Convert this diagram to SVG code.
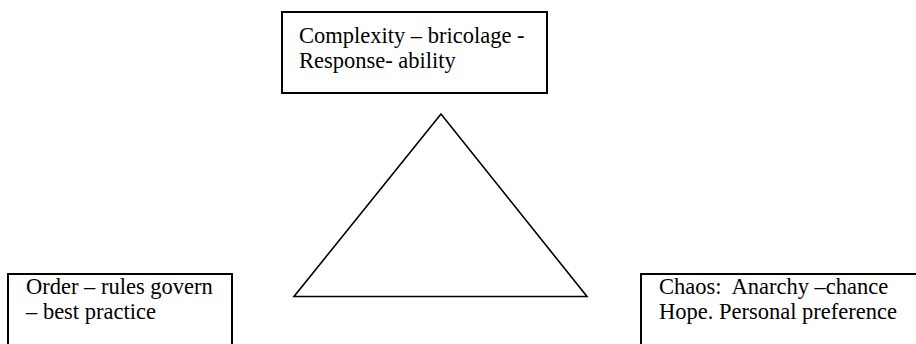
<svg xmlns="http://www.w3.org/2000/svg" width="916" height="344" viewBox="0 0 916 344">
<style>
.box{fill:#fff;stroke:#000;stroke-width:2}
.t{font-family:"Liberation Serif","Times New Roman",serif;font-size:22.5px;fill:#000;white-space:pre}
.tri{fill:none;stroke:#000;stroke-width:1.6;stroke-linejoin:miter}
</style>
<rect width="916" height="344" fill="#fff"/>
<g id="connectors">
<polygon class="tri" points="441,114 294,296.5 587,296.5"/>
</g>
<g id="complexity">
<rect class="box" x="282" y="12" width="265" height="81"/>
<text class="t" x="299" y="43">Complexity – bricolage -</text>
<text class="t" x="299" y="68">Response- ability</text>
</g>
<g id="order">
<rect class="box" x="8" y="274" width="224" height="90"/>
<text class="t" x="26" y="294">Order – rules govern</text>
<text class="t" x="26" y="319">– best practice</text>
</g>
<g id="chaos">
<rect class="box" x="641" y="274" width="300" height="90"/>
<text class="t" x="659" y="294" xml:space="preserve">Chaos:  Anarchy –chance</text>
<text class="t" x="659" y="319">Hope. Personal preference</text>
</g>
</svg>
